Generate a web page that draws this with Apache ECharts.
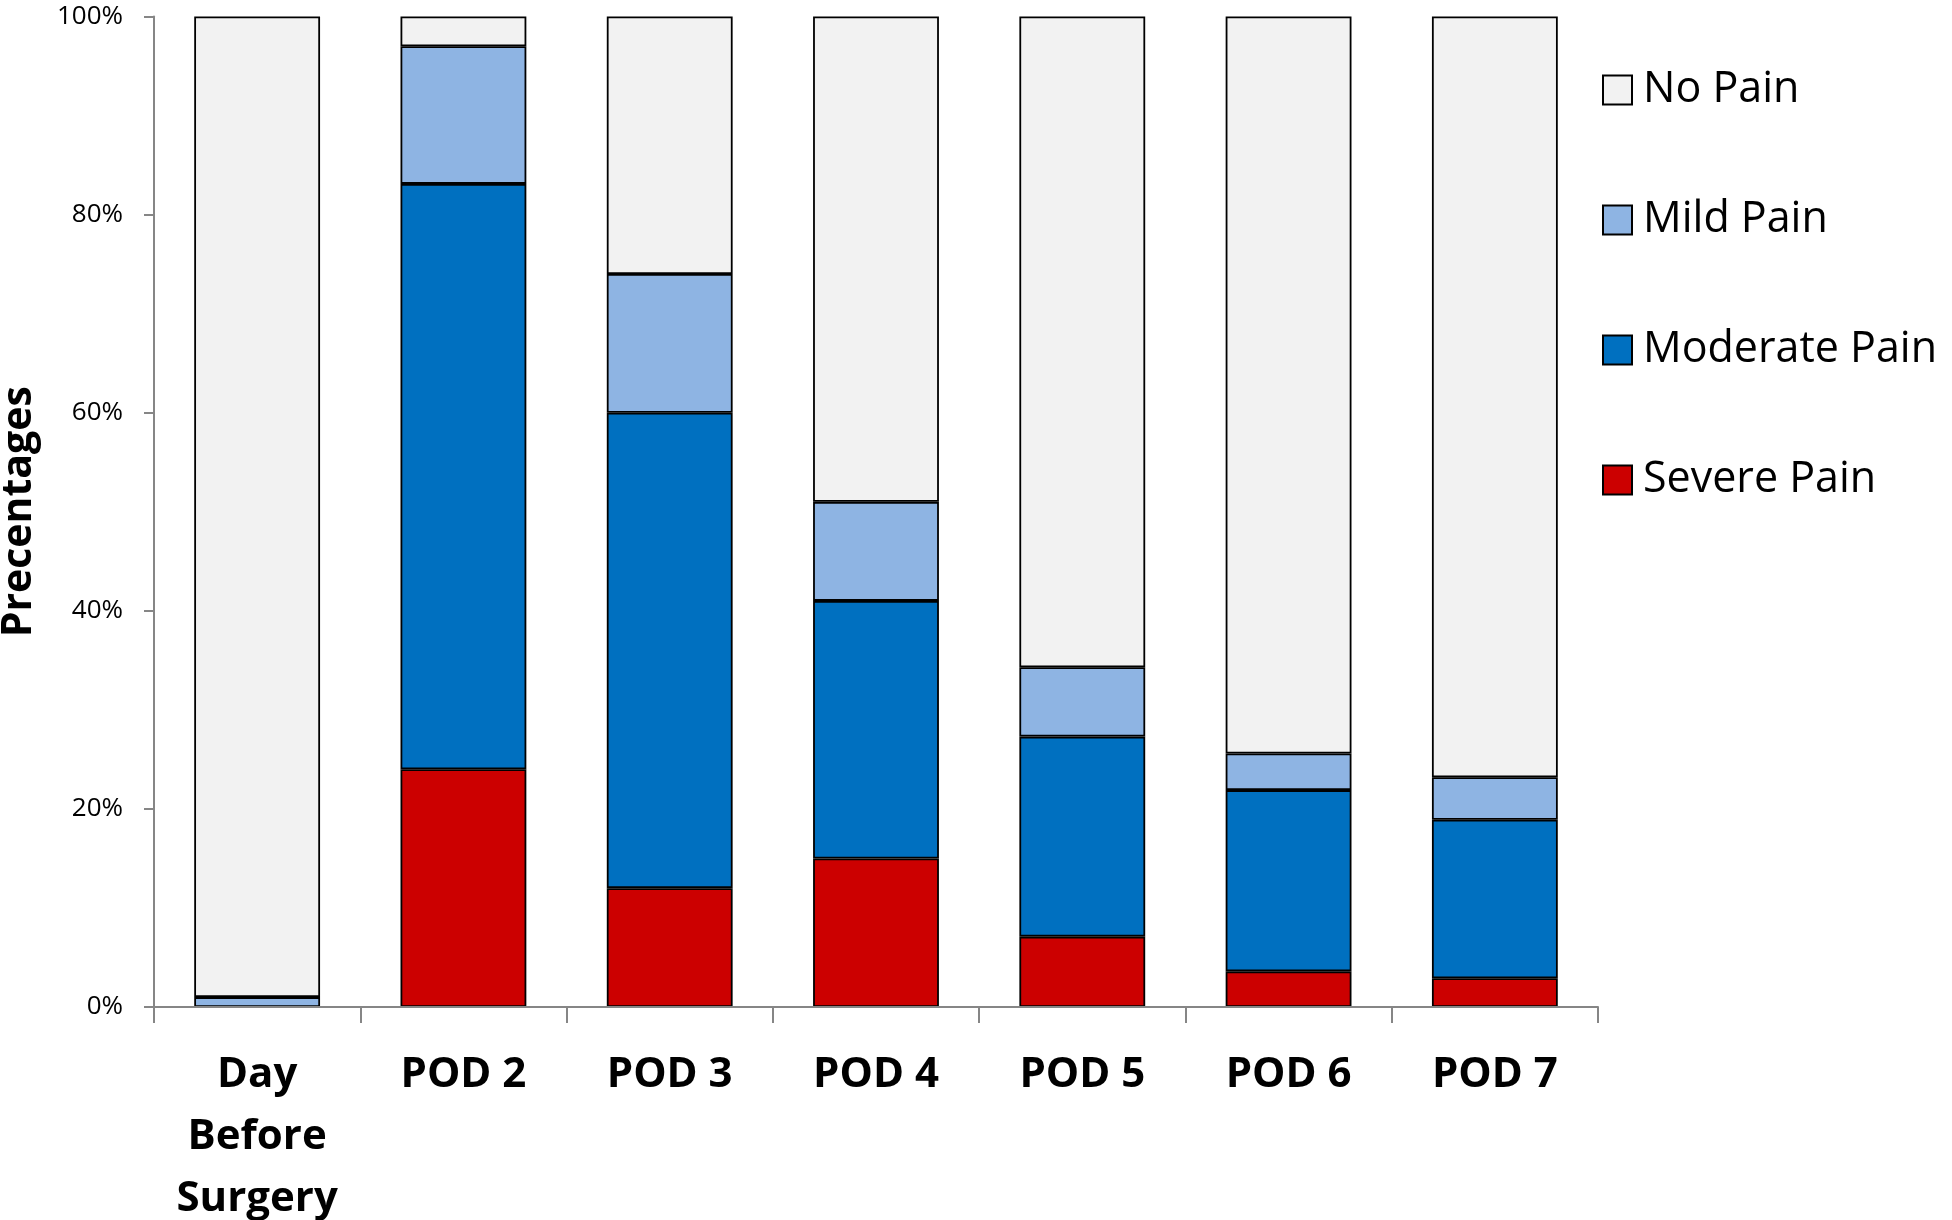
<!DOCTYPE html>
<html>
<head>
<meta charset="utf-8">
<script src="https://cdn.jsdelivr.net/npm/echarts@6/dist/echarts.min.js"></script>
<style>
html,body{margin:0;padding:0;background:#fff;}
#chart{width:1952px;height:1220px;}
</style>
</head>
<body>
<div id="chart"></div>
<script>
const categories = ['Day\nBefore\nSurgery', 'POD 2', 'POD 3', 'POD 4', 'POD 5', 'POD 6', 'POD 7'];
const severePain   = [0, 24, 12, 15, 7.1, 3.6, 2.9];
const moderatePain = [0, 59.1, 48, 26, 20.2, 18.3, 16.0];
const mildPain     = [1, 13.9, 14, 10, 7.0, 3.7, 4.3];
const noPain       = [99, 3, 26, 49, 65.7, 74.4, 76.8];
const yTicks = [0, 20, 40, 60, 80, 100];

const FONT = "'Open Sans', 'Noto Sans', sans-serif";
const chart = echarts.init(document.getElementById('chart'), null, {renderer: 'canvas'});

function barSeries(name, data, color) {
  return {
    name: name,
    type: 'bar',
    stack: 'pain',
    data: data,
    barCategoryGap: '39%',
    itemStyle: { color: color, borderColor: '#000', borderWidth: 1.8 },
    emphasis: { disabled: true }
  };
}

chart.setOption({
  animation: false,
  backgroundColor: '#fff',
  textStyle: { fontFamily: FONT },
  grid: { left: 154, right: 354, top: 16.5, bottom: 213, containLabel: false, outerBoundsMode: 'none' },
  legend: {
    orient: 'vertical',
    left: 1602,
    top: 65,
    padding: 0,
    itemWidth: 29,
    itemHeight: 29,
    itemGap: 80,
    data: ['No Pain', 'Mild Pain', 'Moderate Pain', 'Severe Pain'],
    textStyle: { fontFamily: FONT, fontSize: 43, color: '#000', lineHeight: 50, padding: [0, 0, 0, 6] },
    icon: 'rect'
  },
  xAxis: {
    type: 'category',
    data: categories,
    z: 10,
    axisLine: { lineStyle: { color: '#868686', width: 2 } },
    axisTick: { show: true, length: 16, lineStyle: { color: '#868686', width: 2 } },
    axisLabel: {
      fontFamily: FONT, fontSize: 42, fontWeight: 'bold', color: '#000',
      lineHeight: 62, margin: 37, interval: 0
    }
  },
  yAxis: {
    type: 'value',
    min: yTicks[0],
    max: yTicks[yTicks.length - 1],
    interval: 20,
    name: 'Precentages',
    nameLocation: 'middle',
    nameRotate: 90,
    nameGap: 114,
    nameTextStyle: { fontFamily: FONT, fontSize: 41, fontWeight: 'bold', color: '#000' },
    axisLine: { show: true, lineStyle: { color: '#868686', width: 2 } },
    axisTick: { show: true, length: 10, lineStyle: { color: '#868686', width: 2 } },
    splitLine: { show: false },
    axisLabel: { fontFamily: FONT, fontSize: 26, color: '#000', margin: 31, formatter: '{value}%' }
  },
  series: [
    barSeries('Severe Pain', severePain, '#CC0000'),
    barSeries('Moderate Pain', moderatePain, '#0070C0'),
    barSeries('Mild Pain', mildPain, '#8EB4E3'),
    barSeries('No Pain', noPain, '#F2F2F2')
  ]
});
</script>
</body>
</html>
